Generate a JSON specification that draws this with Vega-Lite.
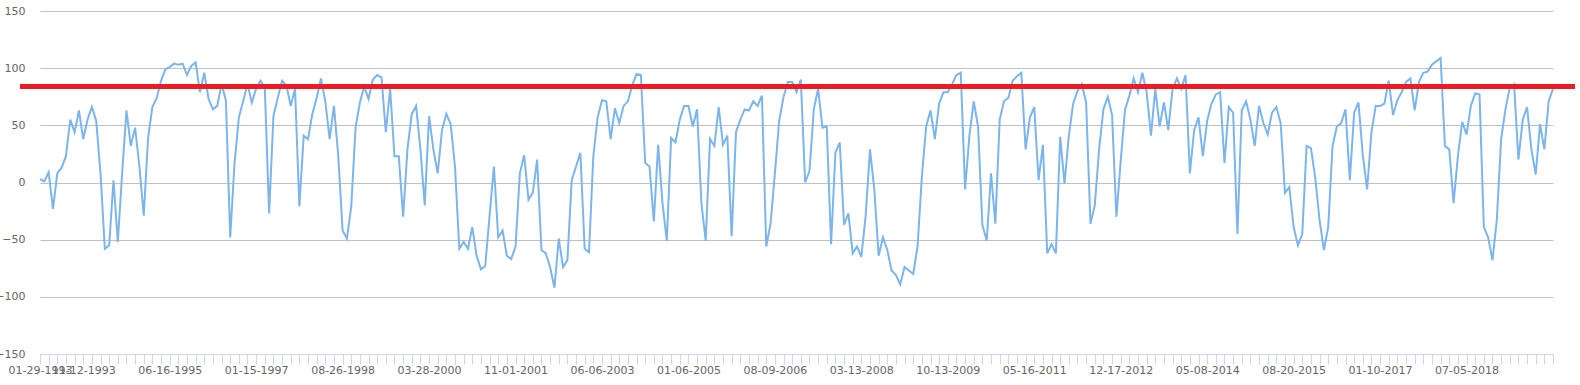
{
"$schema":"https://vega.github.io/schema/vega-lite/v6.json",
"width":1513,"height":343,
"autosize":{"type":"none"},
"padding":{"left":40,"top":11,"right":27,"bottom":31},
"background":"#ffffff",
"config":{"view":{"stroke":null},"font":"DejaVu Sans"},
"data":{"values":[
{"n":0,"v":3},{"n":1,"v":1},{"n":2,"v":9},{"n":3,"v":-23},{"n":4,"v":8},{"n":5,"v":13},{"n":6,"v":23},{"n":7,"v":55},{"n":8,"v":44},{"n":9,"v":63},
{"n":10,"v":38},{"n":11,"v":55},{"n":12,"v":66},{"n":13,"v":54},{"n":14,"v":8},{"n":15,"v":-58},{"n":16,"v":-55},{"n":17,"v":2},{"n":18,"v":-52},{"n":19,"v":8},
{"n":20,"v":63},{"n":21,"v":32},{"n":22,"v":48},{"n":23,"v":14},{"n":24,"v":-29},{"n":25,"v":39},{"n":26,"v":66},{"n":27,"v":74},{"n":28,"v":89},{"n":29,"v":99},
{"n":30,"v":101},{"n":31,"v":104},{"n":32,"v":103},{"n":33,"v":104},{"n":34,"v":94},{"n":35,"v":102},{"n":36,"v":105},{"n":37,"v":79},{"n":38,"v":96},{"n":39,"v":73},
{"n":40,"v":64},{"n":41,"v":67},{"n":42,"v":86},{"n":43,"v":72},{"n":44,"v":-48},{"n":45,"v":17},{"n":46,"v":57},{"n":47,"v":71},{"n":48,"v":86},{"n":49,"v":70},
{"n":50,"v":82},{"n":51,"v":89},{"n":52,"v":83},{"n":53,"v":-27},{"n":54,"v":58},{"n":55,"v":74},{"n":56,"v":89},{"n":57,"v":85},{"n":58,"v":67},{"n":59,"v":82},
{"n":60,"v":-21},{"n":61,"v":41},{"n":62,"v":38},{"n":63,"v":60},{"n":64,"v":74},{"n":65,"v":91},{"n":66,"v":71},{"n":67,"v":38},{"n":68,"v":67},{"n":69,"v":23},
{"n":70,"v":-42},{"n":71,"v":-49},{"n":72,"v":-21},{"n":73,"v":48},{"n":74,"v":70},{"n":75,"v":84},{"n":76,"v":73},{"n":77,"v":90},{"n":78,"v":94},{"n":79,"v":92},
{"n":80,"v":44},{"n":81,"v":82},{"n":82,"v":23},{"n":83,"v":23},{"n":84,"v":-30},{"n":85,"v":29},{"n":86,"v":60},{"n":87,"v":67},{"n":88,"v":29},{"n":89,"v":-20},
{"n":90,"v":58},{"n":91,"v":29},{"n":92,"v":8},{"n":93,"v":46},{"n":94,"v":60},{"n":95,"v":51},{"n":96,"v":14},{"n":97,"v":-58},{"n":98,"v":-52},{"n":99,"v":-58},
{"n":100,"v":-39},{"n":101,"v":-64},{"n":102,"v":-76},{"n":103,"v":-73},{"n":104,"v":-29},{"n":105,"v":14},{"n":106,"v":-48},{"n":107,"v":-42},{"n":108,"v":-64},{"n":109,"v":-67},
{"n":110,"v":-56},{"n":111,"v":8},{"n":112,"v":24},{"n":113,"v":-15},{"n":114,"v":-9},{"n":115,"v":20},{"n":116,"v":-59},{"n":117,"v":-62},{"n":118,"v":-74},{"n":119,"v":-92},
{"n":120,"v":-49},{"n":121,"v":-74},{"n":122,"v":-68},{"n":123,"v":2},{"n":124,"v":14},{"n":125,"v":26},{"n":126,"v":-58},{"n":127,"v":-61},{"n":128,"v":23},{"n":129,"v":57},
{"n":130,"v":72},{"n":131,"v":71},{"n":132,"v":38},{"n":133,"v":65},{"n":134,"v":52},{"n":135,"v":67},{"n":136,"v":71},{"n":137,"v":85},{"n":138,"v":95},{"n":139,"v":94},
{"n":140,"v":17},{"n":141,"v":14},{"n":142,"v":-34},{"n":143,"v":33},{"n":144,"v":-18},{"n":145,"v":-51},{"n":146,"v":39},{"n":147,"v":35},{"n":148,"v":55},{"n":149,"v":67},
{"n":150,"v":67},{"n":151,"v":49},{"n":152,"v":64},{"n":153,"v":-18},{"n":154,"v":-51},{"n":155,"v":38},{"n":156,"v":32},{"n":157,"v":66},{"n":158,"v":33},{"n":159,"v":41},
{"n":160,"v":-47},{"n":161,"v":44},{"n":162,"v":55},{"n":163,"v":64},{"n":164,"v":63},{"n":165,"v":71},{"n":166,"v":67},{"n":167,"v":76},{"n":168,"v":-56},{"n":169,"v":-36},
{"n":170,"v":8},{"n":171,"v":54},{"n":172,"v":75},{"n":173,"v":88},{"n":174,"v":88},{"n":175,"v":79},{"n":176,"v":90},{"n":177,"v":0},{"n":178,"v":10},{"n":179,"v":64},
{"n":180,"v":82},{"n":181,"v":48},{"n":182,"v":49},{"n":183,"v":-54},{"n":184,"v":26},{"n":185,"v":35},{"n":186,"v":-37},{"n":187,"v":-27},{"n":188,"v":-62},{"n":189,"v":-56},
{"n":190,"v":-65},{"n":191,"v":-29},{"n":192,"v":29},{"n":193,"v":-6},{"n":194,"v":-64},{"n":195,"v":-48},{"n":196,"v":-59},{"n":197,"v":-77},{"n":198,"v":-81},{"n":199,"v":-89},
{"n":200,"v":-74},{"n":201,"v":-77},{"n":202,"v":-80},{"n":203,"v":-56},{"n":204,"v":5},{"n":205,"v":49},{"n":206,"v":63},{"n":207,"v":38},{"n":208,"v":69},{"n":209,"v":79},
{"n":210,"v":79},{"n":211,"v":86},{"n":212,"v":94},{"n":213,"v":96},{"n":214,"v":-6},{"n":215,"v":41},{"n":216,"v":71},{"n":217,"v":49},{"n":218,"v":-37},{"n":219,"v":-51},
{"n":220,"v":8},{"n":221,"v":-36},{"n":222,"v":55},{"n":223,"v":71},{"n":224,"v":74},{"n":225,"v":89},{"n":226,"v":93},{"n":227,"v":96},{"n":228,"v":29},{"n":229,"v":57},
{"n":230,"v":66},{"n":231,"v":2},{"n":232,"v":33},{"n":233,"v":-62},{"n":234,"v":-54},{"n":235,"v":-62},{"n":236,"v":40},{"n":237,"v":-1},{"n":238,"v":41},{"n":239,"v":69},
{"n":240,"v":80},{"n":241,"v":86},{"n":242,"v":70},{"n":243,"v":-36},{"n":244,"v":-20},{"n":245,"v":29},{"n":246,"v":64},{"n":247,"v":75},{"n":248,"v":59},{"n":249,"v":-30},
{"n":250,"v":19},{"n":251,"v":64},{"n":252,"v":76},{"n":253,"v":91},{"n":254,"v":79},{"n":255,"v":96},{"n":256,"v":79},{"n":257,"v":41},{"n":258,"v":82},{"n":259,"v":49},
{"n":260,"v":70},{"n":261,"v":46},{"n":262,"v":82},{"n":263,"v":91},{"n":264,"v":82},{"n":265,"v":94},{"n":266,"v":8},{"n":267,"v":46},{"n":268,"v":57},{"n":269,"v":23},
{"n":270,"v":54},{"n":271,"v":69},{"n":272,"v":77},{"n":273,"v":79},{"n":274,"v":17},{"n":275,"v":66},{"n":276,"v":61},{"n":277,"v":-45},{"n":278,"v":63},{"n":279,"v":71},
{"n":280,"v":55},{"n":281,"v":32},{"n":282,"v":67},{"n":283,"v":52},{"n":284,"v":42},{"n":285,"v":61},{"n":286,"v":66},{"n":287,"v":52},{"n":288,"v":-9},{"n":289,"v":-4},
{"n":290,"v":-39},{"n":291,"v":-55},{"n":292,"v":-45},{"n":293,"v":32},{"n":294,"v":30},{"n":295,"v":4},{"n":296,"v":-33},{"n":297,"v":-59},{"n":298,"v":-39},{"n":299,"v":32},
{"n":300,"v":49},{"n":301,"v":52},{"n":302,"v":64},{"n":303,"v":2},{"n":304,"v":61},{"n":305,"v":70},{"n":306,"v":24},{"n":307,"v":-6},{"n":308,"v":44},{"n":309,"v":67},
{"n":310,"v":67},{"n":311,"v":69},{"n":312,"v":89},{"n":313,"v":59},{"n":314,"v":72},{"n":315,"v":79},{"n":316,"v":88},{"n":317,"v":91},{"n":318,"v":63},{"n":319,"v":88},
{"n":320,"v":96},{"n":321,"v":97},{"n":322,"v":103},{"n":323,"v":106},{"n":324,"v":109},{"n":325,"v":32},{"n":326,"v":29},{"n":327,"v":-18},{"n":328,"v":23},{"n":329,"v":53},
{"n":330,"v":42},{"n":331,"v":67},{"n":332,"v":78},{"n":333,"v":77},{"n":334,"v":-39},{"n":335,"v":-48},{"n":336,"v":-68},{"n":337,"v":-33},{"n":338,"v":38},{"n":339,"v":64},
{"n":340,"v":83},{"n":341,"v":86},{"n":342,"v":20},{"n":343,"v":55},{"n":344,"v":66},{"n":345,"v":29},{"n":346,"v":7},{"n":347,"v":51},{"n":348,"v":29},{"n":349,"v":71},
{"n":350,"v":82}
]},
"layer":[
{"mark":{"type":"line","color":"#7cb5ec","strokeWidth":2,"interpolate":"linear"},
 "encoding":{
  "x":{"field":"n","type":"quantitative","scale":{"domain":[0,350],"nice":false,"zero":false},
   "axis":{"title":null,"grid":false,"tickCount":1000,
    "values":[0,2,4,6,8,10,12,14,16,18,20,22,24,26,28,30,32,34,36,38,40,42,44,46,48,50,52,54,56,58,60,62,64,66,68,70,72,74,76,78,80,82,84,86,88,90,92,94,96,98,100,102,104,106,108,110,112,114,116,118,120,122,124,126,128,130,132,134,136,138,140,142,144,146,148,150,152,154,156,158,160,162,164,166,168,170,172,174,176,178,180,182,184,186,188,190,192,194,196,198,200,202,204,206,208,210,212,214,216,218,220,222,224,226,228,230,232,234,236,238,240,242,244,246,248,250,252,254,256,258,260,262,264,266,268,270,272,274,276,278,280,282,284,286,288,290,292,294,296,298,300,302,304,306,308,310,312,314,316,318,320,322,324,326,328,330,332,334,336,338,340,342,344,346,348,350],
    "labelExpr":"indexof([0,10,30,50,70,90,110,130,150,170,190,210,230,250,270,290,310,330], datum.value) < 0 ? '' : ['01-29-1993','11-12-1993','06-16-1995','01-15-1997','08-26-1998','03-28-2000','11-01-2001','06-06-2003','01-06-2005','08-09-2006','03-13-2008','10-13-2009','05-16-2011','12-17-2012','05-08-2014','08-20-2015','01-10-2017','07-05-2018'][indexof([0,10,30,50,70,90,110,130,150,170,190,210,230,250,270,290,310,330], datum.value)]",
    "domainColor":"#ccd6eb","tickColor":"#ccd6eb","tickSize":10,"labelPadding":0.5,
    "labelColor":"#666666","labelFontSize":11,"labelFont":"DejaVu Sans",
    "labelOverlap":false,"labelFlush":false,"labelBound":false}},
  "y":{"field":"v","type":"quantitative","scale":{"domain":[-150,150],"nice":false},
   "axis":{"title":null,"values":[-150,-100,-50,0,50,100,150],"grid":true,"gridColor":"#c0c0c0",
    "domain":false,"ticks":false,"labelPadding":15,"labelColor":"#666666","labelFontSize":11,"labelFont":"DejaVu Sans"}}
 }},
{"mark":{"type":"rule","color":"#ec1c24","strokeWidth":4,"clip":false},
 "encoding":{"y":{"datum":84},"x":{"datum":-4.6},"x2":{"datum":354.9}}}
]
}
